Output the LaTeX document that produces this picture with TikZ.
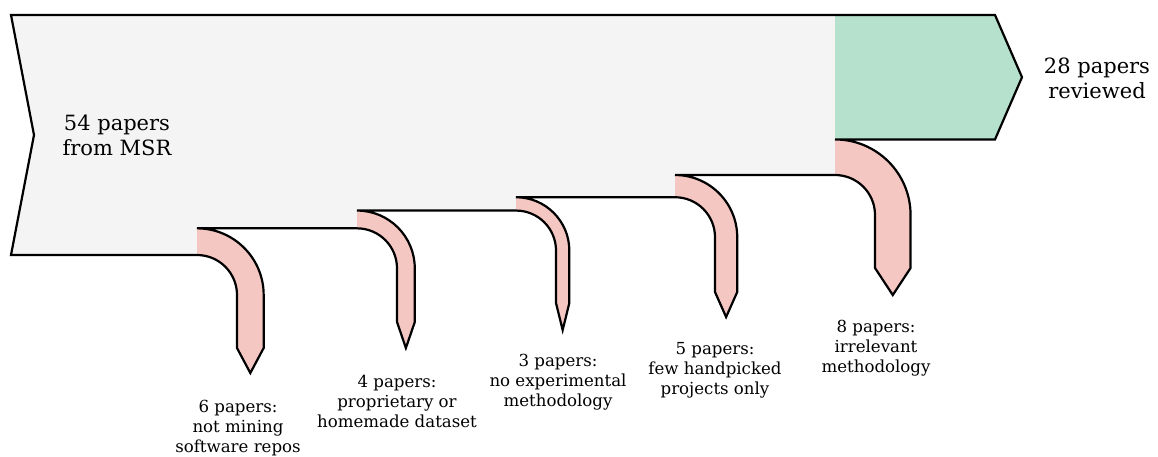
\documentclass[tikz,border=0pt]{standalone}
\usepackage{fontspec}
\setmainfont{DejaVu Serif}
\definecolor{greyc}{HTML}{F4F4F4}
\definecolor{greenc}{HTML}{B6E1CD}
\definecolor{pinkc}{HTML}{F4C7C3}
\tikzset{
  flowpath/.style n args={5}{insert path={
    .. controls ({#1+0.5523*(40+#3)},{#2-#3}) and ({#1+40+#3},{#2+40-0.5523*(40+#3)}) .. ({#1+40+#3},{#2+40})
    -- ({#1+40+#3},#4) -- ({#1+40+#3/2},#5) -- ({#1+40},#4) -- ({#1+40},{#2+40})
    .. controls ({#1+40},{#2+17.91}) and ({#1+22.09},#2) .. (#1,#2)
  }},
  outline/.style={draw=black, line width=2.2pt},
  biglabel/.style={align=center, font=\fontsize{21}{25}\selectfont, inner sep=0pt},
  smalllabel/.style={align=center, font=\fontsize{16.6}{20}\selectfont, inner sep=0pt}
}
\begin{document}
\begin{tikzpicture}[x=1pt, y=-1pt]
\useasboundingbox (0,0) rectangle (1158,456);
% fills
\fill[greyc] (11,15) -- (835,15) -- (835,175) -- (675,175) -- (675,197.22) -- (516,197.22) -- (516,210.56) -- (357,210.56) -- (357,228.33) -- (197,228.33) -- (197,255) -- (11,255) -- (34,135) -- cycle;
\fill[greenc] (835,15) -- (995,15) -- (1022,77.2) -- (995,139.44) -- (835,139.44) -- cycle;
\fill[pinkc] (835,139.44) [flowpath={835}{175}{35.56}{268}{295}] -- cycle;
\fill[pinkc] (675,175) [flowpath={675}{197.22}{22.22}{292}{317}] -- cycle;
\fill[pinkc] (516,197.22) [flowpath={516}{210.56}{13.33}{303}{330}] -- cycle;
\fill[pinkc] (357,210.56) [flowpath={357}{228.33}{17.78}{322}{348}] -- cycle;
\fill[pinkc] (197,228.33) [flowpath={197}{255}{26.67}{348}{373}] -- cycle;
% outline
\draw[outline] (11,15) -- (995,15) -- (1022,77.2) -- (995,139.44) -- (835,139.44)
  [flowpath={835}{175}{35.56}{268}{295}] -- (675,175)
  [flowpath={675}{197.22}{22.22}{292}{317}] -- (516,197.22)
  [flowpath={516}{210.56}{13.33}{303}{330}] -- (357,210.56)
  [flowpath={357}{228.33}{17.78}{322}{348}] -- (197,228.33)
  [flowpath={197}{255}{26.67}{348}{373}] -- (11,255) -- (34,135) -- cycle;
% labels
\node[biglabel] (src) at (117,135) {54 papers\\from MSR};
\node[biglabel] (dst) at (1097,78) {28 papers\\reviewed};
\node[smalllabel] (o1) at (238,428) {6 papers:\\not mining\\software repos};
\node[smalllabel] (o2) at (397,401) {4 papers:\\proprietary or\\homemade dataset};
\node[smalllabel] (o3) at (558,382) {3 papers:\\no experimental\\methodology};
\node[smalllabel] (o4) at (715,370) {5 papers:\\few handpicked\\projects only};
\node[smalllabel] (o5) at (876,348) {8 papers:\\irrelevant\\methodology};
\end{tikzpicture}
\end{document}
